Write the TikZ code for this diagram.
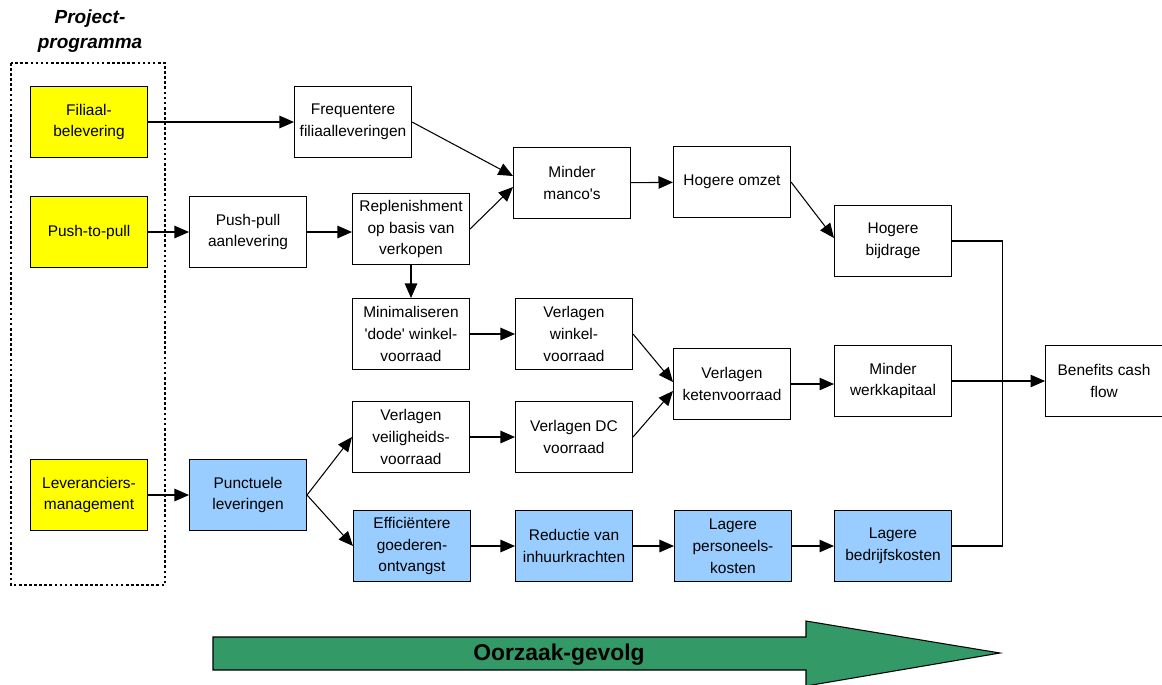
\documentclass[tikz,border=0pt]{standalone}
\usepackage{fontspec}
\setmainfont{Liberation Sans}
\usetikzlibrary{arrows.meta}
\definecolor{projYellow}{RGB}{255,255,0}
\definecolor{levBlue}{RGB}{153,204,255}
\definecolor{causeGreen}{RGB}{51,153,102}

\begin{document}
\begin{tikzpicture}[x=0.02cm,y=-0.02cm,
  box/.style={draw,line width=0.6pt,minimum width=2.34cm,minimum height=1.42cm,
    align=center,inner sep=1pt,font=\fontsize{8.8}{12.5}\selectfont},
  proj/.style={box,fill=projYellow},
  lev/.style={box,fill=levBlue},
  link/.style={line width=0.6pt,-{Triangle[length=2.9mm,width=2.5mm]}}]
\useasboundingbox (0,0) rectangle (1162,684);

% Project programma
\node[align=center,font=\bfseries\itshape\fontsize{10.8}{14}\selectfont] (title) at (90,31) {Project-\\programma};
\draw[line width=1.5pt,dash pattern=on 1.5pt off 1.4pt] (11,63) rectangle (165,585);
\node[proj] (fil) at (89,122) {Filiaal-\\belevering};
\node[proj] (ptp) at (89,232) {Push-to-pull};
\node[proj] (levm) at (89,495) {Leveranciers-\\management};

% Upper chain
\node[box] (freq) at (353,122) {Frequentere\\filiaalleveringen};
\node[box] (ppa) at (248,232) {Push-pull\\aanlevering};
\node[box] (repl) at (411,229) {Replenishment\\op basis van\\verkopen};
\node[box] (manco) at (572,183) {Minder\\manco\textquotesingle s};
\node[box] (omzet) at (732,182) {Hogere omzet};
\node[box] (bijdr) at (893,241) {Hogere\\bijdrage};

% Middle chain
\node[box] (mini) at (411,334) {Minimaliseren\\\textquotesingle dode\textquotesingle\ winkel-\\voorraad};
\node[box] (winkel) at (574,334) {Verlagen\\winkel-\\voorraad};
\node[box] (veil) at (411,437) {Verlagen\\veiligheids-\\voorraad};
\node[box] (dc) at (574,437) {Verlagen DC\\voorraad};
\node[box] (keten) at (732,384) {Verlagen\\ketenvoorraad};
\node[box] (werk) at (893,381) {Minder\\werkkapitaal};
\node[box] (cash) at (1104,381) {Benefits cash\\flow};

% Lower chain
\node[lev] (punct) at (248,495) {Punctuele\\leveringen};
\node[lev] (eff) at (412,546) {Efficiëntere\\goederen-\\ontvangst};
\node[lev] (inhuur) at (574,546) {Reductie van\\inhuurkrachten};
\node[lev] (pers) at (733,546) {Lagere\\personeels-\\kosten};
\node[lev] (bedr) at (893,546) {Lagere\\bedrijfskosten};

% Connections
\draw[link] (fil) -- (freq);
\draw[link] (ptp) -- (ppa);
\draw[link] (ppa.east) -- (ppa.east -| repl.west);
\draw[link] (freq.east) -- ([yshift=0.14cm]manco.west);
\draw[link] (repl.east) -- ([yshift=-0.08cm]manco.west);
\draw[link] (repl) -- (mini);
\draw[link] (manco) -- (omzet);
\draw[link] (omzet.east) -- ([yshift=0.06cm]bijdr.west);
\draw[link] (mini) -- (winkel);
\draw[link] (winkel.east) -- ([yshift=0.04cm]keten.west);
\draw[link] (veil) -- (dc);
\draw[link] (dc.east) -- ([yshift=-0.14cm]keten.west);
\draw[link] (keten.east) -- (keten.east -| werk.west);
\draw[link] (werk) -- (cash);
\draw[link] (levm) -- (punct);
\draw[link] (punct.east) -- (veil.west);
\draw[link] (punct.east) -- (eff.west);
\draw[link] (eff) -- (inhuur);
\draw[link] (inhuur) -- (pers);
\draw[link] (pers) -- (bedr);
\draw[line width=0.6pt] (bijdr.east) -- ++(50,0) |- (bedr.east);

% Cause-effect arrow
\draw[fill=causeGreen,line width=0.6pt] (213,637) -- (806,637) -- (806,621) -- (1000,653)
  -- (806,686) -- (806,670) -- (213,670) -- cycle;
\node[font=\bfseries\fontsize{13}{15}\selectfont] (oorz) at (559,655) {Oorzaak-gevolg};
\end{tikzpicture}
\end{document}
